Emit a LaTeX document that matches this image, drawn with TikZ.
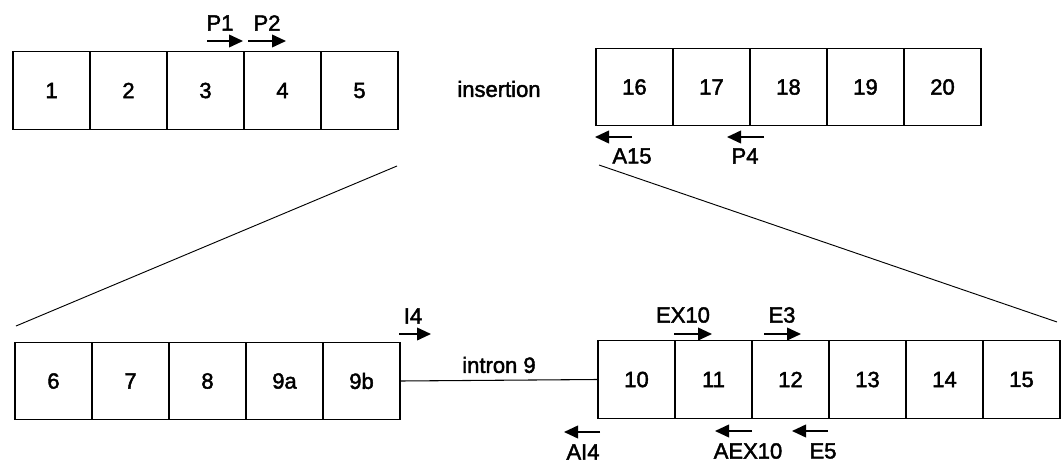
\documentclass[tikz,border=0pt]{standalone}
\usepackage{fontspec}
\setmainfont{Liberation Sans}
\newfontfamily\medfont[FakeBold=2]{Liberation Sans}
\usetikzlibrary{arrows.meta}
\begin{document}
\begin{tikzpicture}[x=0.75pt,y=-0.75pt,
  exon/.style={draw,line width=0.8pt,minimum width=57.75pt,minimum height=58pt,
    inner sep=0pt,font=\medfont\fontsize{16.5}{19}\selectfont},
  lbl/.style={font=\medfont\fontsize{16.5}{19}\selectfont,inner sep=0pt},
  primer/.style={line width=1.3pt,-{Triangle[length=10.5pt,width=9.5pt]}},
  link/.style={line width=0.8pt}]
\useasboundingbox (0,0) rectangle (1064,464);

% upper row, exons 1-5
\foreach \n [count=\i from 0] in {1,2,3,4,5}
  \node[exon] (e\n) at (51.5+77*\i,90.5) {\n};
% upper row, exons 16-20
\foreach \n [count=\i from 0] in {16,17,18,19,20}
  \node[exon] (e\n) at (634.5+77*\i,87) {\n};
\node[lbl] (ins) at (499,89) {insertion};

% lower row, exons 6-9b
\foreach \n [count=\i from 0] in {6,7,8,9a,9b}
  \node[exon] (e\n) at (53.5+77*\i,381) {\n};
% lower row, exons 10-15
\foreach \n [count=\i from 0] in {10,11,12,13,14,15}
  \node[exon] (e\n) at (636.5+77*\i,379.5) {\n};

% intron 9
\draw[link] (e9b.east) -- (e10.west) node[lbl,midway,above=5pt] (intr) {intron 9};

% expansion lines
\coordinate (zl1) at (397,166);
\coordinate (zl2) at (16,326);
\coordinate (zr1) at (599,165);
\coordinate (zr2) at (1057,322);
\draw[line width=0.7pt] (zl1) -- (zl2);
\draw[line width=0.7pt] (zr1) -- (zr2);

% primers
\coordinate (p1a) at (207,41);  \coordinate (p1b) at (243,41);
\coordinate (p2a) at (248,41);  \coordinate (p2b) at (286,41);
\draw[primer] (p1a) -- (p1b); \node[lbl] (tP1) at (220,23) {P1};
\draw[primer] (p2a) -- (p2b); \node[lbl] (tP2) at (267,23) {P2};

\coordinate (a15a) at (632,137); \coordinate (a15b) at (595,137);
\coordinate (p4a) at (764,137);  \coordinate (p4b) at (727,137);
\draw[primer] (a15a) -- (a15b); \node[lbl] (tA15) at (632,156) {A15};
\draw[primer] (p4a) -- (p4b);   \node[lbl] (tP4) at (745,156) {P4};

\coordinate (i4a) at (399,334);  \coordinate (i4b) at (431,334);
\draw[primer] (i4a) -- (i4b); \node[lbl] (tI4) at (413,316) {I4};

\coordinate (ai4a) at (600,432); \coordinate (ai4b) at (564,432);
\draw[primer] (ai4a) -- (ai4b); \node[lbl] (tAI4) at (583,452) {AI4};

\coordinate (ex10a) at (674,334); \coordinate (ex10b) at (712,334);
\coordinate (e3a) at (764,334);   \coordinate (e3b) at (801,334);
\draw[primer] (ex10a) -- (ex10b); \node[lbl] (tEX10) at (683,315) {EX10};
\draw[primer] (e3a) -- (e3b);     \node[lbl] (tE3) at (782,315) {E3};

\coordinate (aex10a) at (752,431); \coordinate (aex10b) at (715,431);
\coordinate (e5a) at (828,431);    \coordinate (e5b) at (792,431);
\draw[primer] (aex10a) -- (aex10b); \node[lbl] (tAEX10) at (748,451) {AEX10};
\draw[primer] (e5a) -- (e5b);       \node[lbl] (tE5) at (823,451) {E5};
\end{tikzpicture}
\end{document}
